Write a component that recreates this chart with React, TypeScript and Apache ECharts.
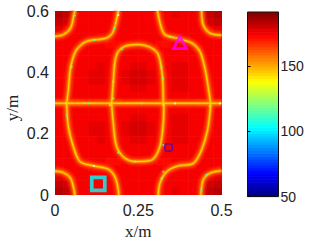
import React, { useEffect, useRef } from "react";
import * as echarts from "echarts";

const xTicks = [0, 0.25, 0.5];
const yTicks = [0, 0.2, 0.4, 0.6];
const scaleTicks = [50, 100, 150];
const scaleMin = 50;
const scaleMax = 191.5;
const cellW = 0.025;
const cellH = 0.024;

// background level field, top row first (y = 0.6)
const field = [
  [183,181,178,175,175,176,176,175,175,175,175,175,175,176,177,176,175,178,181,183],
  [181,179,176,175,175,176,176,175,175,175,175,175,175,176,176,176,175,176,179,181],
  [178,176,175,175,175,175,175,174,175,175,175,175,174,175,175,175,175,175,176,178],
  [174,174,174,174,175,175,174,174,175,175,175,175,174,174,175,175,174,174,174,174],
  [175,175,174,174,174,174,173,173,174,175,175,174,173,173,174,174,174,174,175,175],
  [175,175,175,175,175,175,175,175,174,174,174,174,175,175,175,175,175,175,175,175],
  [175,175,175,175,176,176,175,175,175,176,176,175,175,175,176,176,175,175,175,175],
  [175,175,175,175,176,177,176,175,176,178,178,176,175,176,177,177,176,175,175,175],
  [175,175,175,176,177,177,176,175,177,180,180,177,175,176,178,178,176,175,175,175],
  [175,175,175,176,177,177,176,175,177,180,180,177,175,176,178,178,176,175,175,175],
  [175,175,175,175,176,176,175,175,176,178,178,176,175,175,177,177,175,175,175,175],
  [174,174,174,175,175,175,174,174,175,175,175,175,174,174,175,175,175,174,174,174],
  [171,171,171,172,172,172,171,171,172,172,172,172,171,171,172,172,172,171,171,171],
  [174,174,174,175,175,175,174,174,175,175,175,175,174,174,175,175,175,174,174,174],
  [175,175,175,175,176,176,175,175,176,178,178,176,175,175,177,177,175,175,175,175],
  [175,175,175,176,177,177,176,175,177,180,180,177,175,176,178,178,176,175,175,175],
  [175,175,175,176,177,177,176,175,177,180,180,177,175,176,178,178,176,175,175,175],
  [175,175,175,175,176,177,176,175,176,178,178,176,175,176,177,177,176,175,175,175],
  [175,175,175,175,176,176,175,175,175,176,176,175,175,175,176,176,175,175,175,175],
  [175,175,175,175,175,175,175,175,174,174,174,174,175,175,175,175,175,175,175,175],
  [175,175,174,174,174,174,173,173,174,175,175,174,173,173,174,174,174,174,175,175],
  [174,174,174,174,175,175,174,174,175,175,175,175,174,174,175,175,174,174,174,174],
  [178,176,175,175,175,175,175,174,175,175,175,175,174,175,175,175,175,175,176,178],
  [181,179,176,175,175,176,176,175,175,175,175,175,175,176,176,176,175,176,179,181],
  [183,181,178,175,175,176,176,175,175,175,175,175,175,176,177,176,175,178,181,183],
];

// ridge curves [x, y]
const ridgeTopLeft = [[0,.517],[.025,.523],[.047,.545],[.057,.588],[.06,.6]];
const ridgeUpperLeft = [[.035,.299],[.04,.342],[.045,.403],[.052,.44],[.065,.474],[.095,.501],[.155,.512],[.175,.534],[.19,.6]];
const ridgeUpperLoop = [[.17,.299],[.175,.37],[.18,.435],[.19,.468],[.21,.485],[.25,.491],[.285,.482],[.31,.458],[.323,.381],[.325,.299]];
const ridgeUpperRight = [[.308,.6],[.317,.554],[.33,.523],[.37,.51],[.41,.496],[.435,.468],[.45,.414],[.46,.353],[.467,.299]];
const ridgeTopRight = [[.44,.6],[.445,.555],[.465,.528],[.5,.521]];
const ridgeMiddle = [[0,.299],[.5,.299]];
const ridgeLowerLeft = [[.035,.299],[.04,.223],[.055,.158],[.075,.109],[.115,.095],[.16,.084],[.182,.054],[.192,0]];
const ridgeBottomLeft = [[0,.078],[.025,.073],[.047,.054],[.06,0]];
const ridgeLowerLoop = [[.17,.299],[.175,.234],[.185,.158],[.21,.12],[.243,.109],[.29,.114],[.315,.158],[.325,.234],[.327,.299]];
const ridgeLowerRight = [[.468,.299],[.458,.212],[.44,.147],[.415,.103],[.37,.095],[.335,.076],[.315,.038],[.31,0]];
const ridgeBottomRight = [[.5,.079],[.465,.071],[.445,.049],[.438,0]];
const ridges = [ridgeTopLeft, ridgeUpperLeft, ridgeUpperLoop, ridgeUpperRight, ridgeTopRight, ridgeMiddle, ridgeLowerLeft, ridgeBottomLeft, ridgeLowerLoop, ridgeLowerRight, ridgeBottomRight];

// low-value specks on the ridges [x, y, value]
const specks = [
  [.06,.585,110],[.18,.543,105],[.118,.505,110],[.202,.475,115],[.05,.418,120],[.175,.37,115],
  [.175,.315,125],[.033,.299,125],[.1,.299,110],[.165,.293,130],[.26,.299,110],[.325,.293,130],
  [.465,.29,125],[.345,.516,120],[.32,.418,115],[.325,.38,115],[.035,.259,110],[.19,.138,115],
  [.24,.109,120],[.325,.163,110],[.325,.076,115],[.32,.054,115],[.455,.065,115],[.44,.013,105],
];
const whiteSpecks = [[.117,.095],[.36,.299],[.495,.299],[.19,.587]];

const squareCyan = [[.13,.036]];
const squareBlue = [[.341,.155]];
const triangleMagenta = [[.375,.497]];

function jet(v: number): string {
  const n = 64;
  const i = Math.min(n - 1, Math.max(0, Math.floor(((v - scaleMin) / (scaleMax - scaleMin)) * n)));
  const t = (i + 0.5) / n;
  const c = (d: number) => Math.round(255 * Math.min(1, Math.max(0, 1.5 - Math.abs(4 * t - d))));
  return `rgb(${c(3)},${c(2)},${c(1)})`;
}

const fieldCells: number[][] = [];
field.forEach((row, r) => row.forEach((v, c) => fieldCells.push([c * cellW, 0.6 - r * cellH, v])));

const scaleLevels: number[] = [];
for (let i = 0; i < 64; i++) scaleLevels.push(scaleMin + ((i + 0.5) * (scaleMax - scaleMin)) / 64);

const haloLayers = [
  { width: 11, color: "rgba(255,80,0,0.18)" },
  { width: 8, color: "rgba(255,100,0,0.28)" },
  { width: 5, color: "rgba(255,125,0,0.5)" },
  { width: 2.6, color: "rgba(255,165,0,0.8)" },
  { width: 1, color: "rgba(255,225,0,0.9)" },
];

export default function App() {
  const ref = useRef<HTMLDivElement>(null);
  useEffect(() => {
    const chart = echarts.init(ref.current!, null, { renderer: "svg" });
    const tickFont = { fontFamily: "Liberation Sans", color: "#222" };
    const lineSeries: any[] = [];
    haloLayers.forEach((layer, li) => {
      ridges.forEach((data) => {
        lineSeries.push({
          type: "line",
          data,
          smooth: 0.3,
          symbol: "none",
          silent: true,
          z: 3 + li,
          lineStyle: { width: layer.width, color: layer.color, cap: "butt" },
        });
      });
    });
    chart.setOption({
      animation: false,
      backgroundColor: "#fff",
      grid: [
        { left: 55, top: 11, width: 166.5, height: 184, outerBoundsMode: "none" },
        { left: 247.5, top: 12, width: 31, height: 184.5, outerBoundsMode: "none" },
      ],
      xAxis: [
        {
          gridIndex: 0,
          type: "value",
          min: xTicks[0],
          max: xTicks[2],
          interval: 0.25,
          axisLine: { show: false },
          axisTick: { show: false },
          splitLine: { show: false },
          axisLabel: { ...tickFont, fontSize: 16, margin: 7, showMinLabel: true, showMaxLabel: true },
          name: "x/m",
          nameLocation: "middle",
          nameGap: 28,
          nameMoveOverlap: false,
          nameTextStyle: { fontFamily: "Liberation Serif", fontSize: 17, color: "#222" },
        },
        { gridIndex: 1, type: "value", min: 0, max: 1, show: false },
      ],
      yAxis: [
        {
          gridIndex: 0,
          type: "value",
          min: yTicks[0],
          max: yTicks[3],
          interval: 0.2,
          axisLine: { show: false },
          axisTick: { show: false },
          splitLine: { show: false },
          axisLabel: { ...tickFont, fontSize: 16, margin: 6 },
          name: "y/m",
          nameLocation: "middle",
          nameGap: 34,
          nameMoveOverlap: false,
          nameTextStyle: { fontFamily: "Liberation Serif", fontSize: 17, color: "#222", padding: [0, 10, 0, 0] },
        },
        {
          gridIndex: 1,
          type: "value",
          position: "right",
          min: scaleMin,
          max: scaleMax,
          interval: 50,
          z: 10,
          axisLine: { show: false },
          axisTick: { show: true, inside: false, length: 3, lineStyle: { color: "#000" } },
          splitLine: { show: false },
          axisLabel: {
            ...tickFont,
            fontSize: 14,
            margin: 2,
            showMaxLabel: false,
            formatter: (v: number) => (scaleTicks.includes(v) ? String(v) : ""),
          },
        },
      ],
      series: [
        {
          type: "custom",
          xAxisIndex: 0,
          yAxisIndex: 0,
          clip: true,
          silent: true,
          z: 1,
          data: fieldCells,
          renderItem: (_p: any, api: any) => {
            const a = api.coord([api.value(0), api.value(1)]);
            const b = api.coord([api.value(0) + cellW, api.value(1) - cellH]);
            const col = jet(api.value(2));
            return {
              type: "rect",
              shape: { x: a[0], y: a[1], width: b[0] - a[0] + 0.6, height: b[1] - a[1] + 0.6 },
              style: { fill: col, stroke: null },
            };
          },
        },
        ...lineSeries,
        {
          type: "scatter",
          data: specks,
          symbolSize: 2.2,
          z: 12,
          silent: true,
          itemStyle: { color: (p: any) => jet(p.value[2]) },
        },
        {
          type: "scatter",
          data: whiteSpecks,
          symbolSize: 2,
          z: 12,
          silent: true,
          itemStyle: { color: "#fff" },
        },
        {
          type: "scatter",
          data: squareCyan,
          symbol: "rect",
          symbolSize: 13,
          z: 20,
          silent: true,
          itemStyle: { color: "rgba(0,0,0,0)", borderColor: "#00ffff", borderWidth: 3.7 },
        },
        {
          type: "scatter",
          data: squareBlue,
          symbol: "roundRect",
          symbolSize: 7.3,
          z: 20,
          silent: true,
          itemStyle: { color: "rgba(0,0,0,0)", borderColor: "#1010ee", borderWidth: 1.2 },
        },
        {
          type: "scatter",
          data: triangleMagenta,
          symbol: "triangle",
          symbolSize: [13, 12],
          z: 20,
          silent: true,
          itemStyle: { color: "rgba(0,0,0,0)", borderColor: "#ff00ff", borderWidth: 2.8 },
        },
        {
          type: "custom",
          xAxisIndex: 1,
          yAxisIndex: 1,
          silent: true,
          z: 1,
          data: scaleLevels,
          renderItem: (p: any, api: any) => {
            const v = api.value(0);
            const h = (scaleMax - scaleMin) / 64;
            const a = api.coord([0, v + h / 2]);
            const b = api.coord([1, v - h / 2]);
            return {
              type: "rect",
              shape: { x: a[0], y: a[1], width: b[0] - a[0], height: b[1] - a[1] + 0.6 },
              style: { fill: jet(v), stroke: null },
            };
          },
          encode: { y: 0 },
        },
        {
          type: "custom",
          xAxisIndex: 1,
          yAxisIndex: 1,
          silent: true,
          z: 5,
          data: [[0, scaleMin]],
          renderItem: (_p: any, api: any) => {
            const a = api.coord([0, scaleMax]);
            const b = api.coord([1, scaleMin]);
            return {
              type: "rect",
              shape: { x: a[0], y: a[1], width: b[0] - a[0], height: b[1] - a[1] },
              style: { fill: "none", stroke: "#111", lineWidth: 1 },
            };
          },
        },
      ],
    });
    return () => chart.dispose();
  }, []);
  return (
    <div
      ref={ref}
      style={{ position: "fixed", left: 0, top: 0, width: 312, height: 242, background: "#fff" }}
    />
  );
}
